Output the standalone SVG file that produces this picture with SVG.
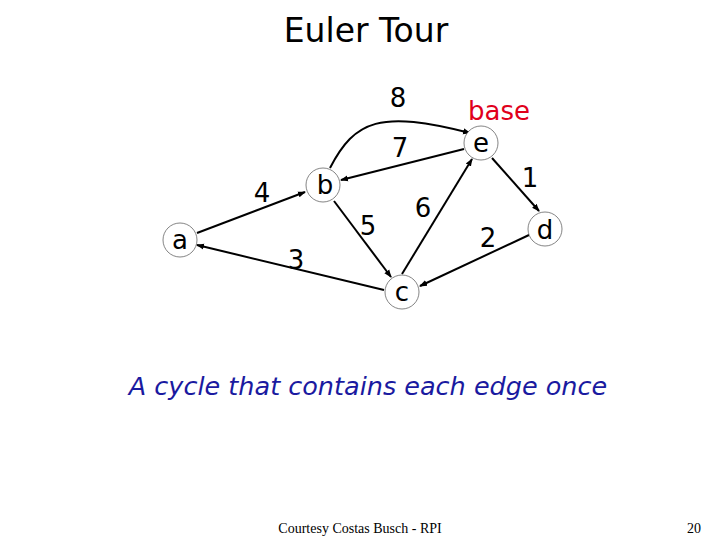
<svg xmlns="http://www.w3.org/2000/svg" width="720" height="540" viewBox="0 0 720 540">
<defs><marker id="ah" markerWidth="8" markerHeight="8" refX="7" refY="4" orient="auto" markerUnits="userSpaceOnUse"><path d="M0,1 L8,4 L0,7 Z" fill="#000"/></marker></defs>
<style>
.n{fill:#fff;stroke:#333;stroke-width:0.6}
.t{font-family:"DejaVu Sans",sans-serif;font-size:26px;text-anchor:middle;fill:#000}
.e{stroke:#000;stroke-width:2;fill:none;marker-end:url(#ah)}
</style>
<rect width="720" height="540" fill="#fff"/>
<text x="366" y="42" class="t" style="font-size:33px">Euler Tour</text>
<g id="edges">
<line class="e" x1="197" y1="233" x2="305" y2="192"/>
<line class="e" x1="464" y1="149" x2="341" y2="180"/>
<line class="e" x1="334" y1="201" x2="391" y2="277"/>
<line class="e" x1="402" y1="274" x2="472" y2="159"/>
<line class="e" x1="492" y1="158" x2="539" y2="211"/>
<line class="e" x1="529" y1="235" x2="420" y2="286"/>
<line class="e" x1="384" y1="290" x2="197" y2="245"/>
<path class="e" d="M330,168 C355,120 380,110 470,133"/>
</g>
<g id="a"><circle class="n" cx="180" cy="240" r="17"/><text class="t" x="180" y="249">a</text></g>
<g id="b"><circle class="n" cx="323" cy="185" r="17"/><text class="t" x="325" y="194">b</text></g>
<g id="e"><circle class="n" cx="481" cy="143" r="17"/><text class="t" x="481" y="152">e</text></g>
<g id="d"><circle class="n" cx="545" cy="229" r="17"/><text class="t" x="545" y="239">d</text></g>
<g id="c"><circle class="n" cx="402" cy="292" r="17"/><text class="t" x="402" y="301">c</text></g>
<g id="labels">
<text class="t" x="398" y="107">8</text>
<text class="t" x="400" y="157">7</text>
<text class="t" x="262" y="202">4</text>
<text class="t" x="368" y="235">5</text>
<text class="t" x="423" y="217">6</text>
<text class="t" x="296" y="269">3</text>
<text class="t" x="488" y="247">2</text>
<text class="t" x="530" y="187">1</text>
<text class="t" x="499" y="120" style="fill:#e0001b">base</text>
</g>
<text class="t" x="368" y="395" style="fill:#1a1aa0;font-style:oblique;font-size:25.5px">A cycle that contains each edge once</text>
<text x="360" y="533" style="font-family:'Liberation Serif',serif;font-size:14px;text-anchor:middle">Courtesy Costas Busch - RPI</text>
<text x="694" y="533" style="font-family:'Liberation Serif',serif;font-size:14px;text-anchor:middle">20</text>
</svg>
